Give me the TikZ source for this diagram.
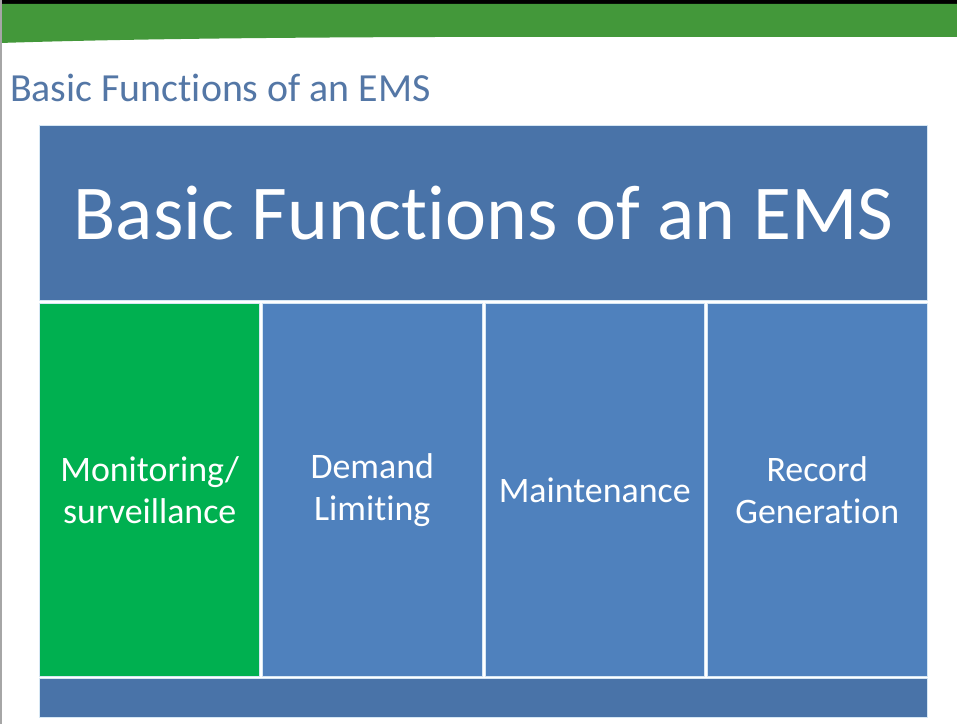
\documentclass[tikz,border=0pt]{standalone}
\usepackage{fontspec}
\setmainfont{Carlito}[Ligatures=NoCommon]
\usetikzlibrary{positioning}
\definecolor{bandgreen}{RGB}{67,152,58}
\definecolor{hdrblue}{RGB}{73,115,168}
\definecolor{cellblue}{RGB}{79,129,189}
\definecolor{mongreen}{RGB}{0,176,80}
\definecolor{titleblue}{RGB}{84,119,166}
\definecolor{sepline}{RGB}{214,231,244}
\tikzset{
  tile/.style={fill=cellblue, draw=sepline, line width=1bp, outer sep=0pt,
    inner sep=0pt, minimum width=219.5bp, minimum height=372bp,
    text=white, align=center, font=\fontsize{36}{42}\selectfont},
  bar/.style={fill=hdrblue, draw=sepline, line width=1bp, outer sep=0pt,
    inner sep=0pt, minimum width=887bp},
}
\begin{document}
\begin{tikzpicture}[x=1bp,y=1bp]
  \useasboundingbox (0,0) rectangle (957,724);
  % slide frame
  \fill[black] (0,720) rectangle (957,724);
  \fill[bandgreen] (0,720) -- (957,720) -- (957,687)
    .. controls (600,687) and (250,689) .. (0,681) -- cycle;
  \fill[gray!70] (0,0) rectangle (2,724);
  \node[anchor=base west, inner sep=0pt, text=titleblue,
    font=\fontsize{40}{44}\selectfont] (ttl) at (10,622) {Basic Functions of an EMS};
  % header
  \node[bar, minimum height=175bp, text=white,
    font=\fontsize{78}{80}\selectfont] (hdr) at (483.5,510.5) {Basic Functions of an EMS};
  % cells
  \node[tile, fill=mongreen, below=3bp of hdr.south west, anchor=north west] (mon)
    {Monitoring/\\surveillance};
  \node[tile, right=3bp of mon] (dem) {Demand\\Limiting};
  \node[tile, right=3bp of dem] (mnt) {Maintenance};
  \node[tile, right=3bp of mnt] (rec) {Record\\Generation};
  % footer
  \node[bar, minimum height=39bp, below=2bp of mon.south west, anchor=north west] (foot) {};
\end{tikzpicture}
\end{document}
